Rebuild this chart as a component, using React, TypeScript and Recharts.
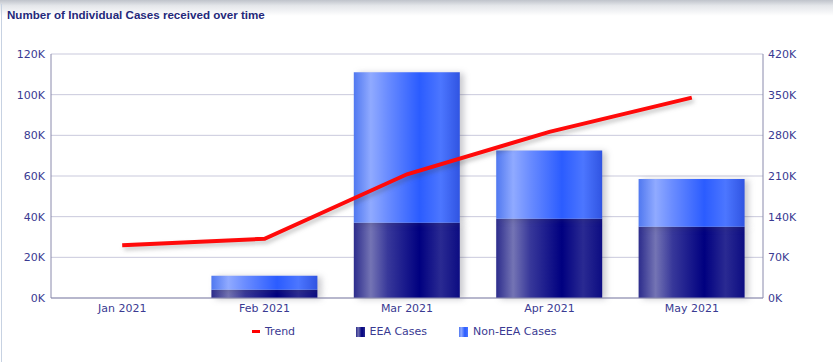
import React from 'react';
import {
  Bar,
  CartesianGrid,
  ComposedChart,
  Line,
  XAxis,
  YAxis,
} from 'recharts';

const months = ['Jan 2021', 'Feb 2021', 'Mar 2021', 'Apr 2021', 'May 2021'];
const eeaCases = [0, 4000, 37000, 39000, 35000];
const nonEeaCases = [0, 7000, 74000, 33500, 23500];
const trend = [91000, 102000, 213000, 286000, 345000];
const leftTicks = [0, 20000, 40000, 60000, 80000, 100000, 120000];
const rightTicks = [0, 70000, 140000, 210000, 280000, 350000, 420000];

const data = months.map((m, i) => ({
  month: m,
  eea: eeaCases[i],
  nonEea: nonEeaCases[i],
  trend: trend[i],
}));

const TICK = '#3a3a92';
const AXIS = '#8a8aac';
const GRID = '#c9c9dc';
const FONT = '"DejaVu Sans", Verdana, sans-serif';

const kFormat = (v: number) => `${Math.round(v / 1000)}K`;

function Legend() {
  const item = { display: 'flex', alignItems: 'center', gap: 5, width: 103.5 } as const;
  return (
    <div
      style={{
        position: 'absolute',
        top: 325,
        left: 252,
        display: 'flex',
        fontFamily: FONT,
        fontSize: 11,
        color: TICK,
        whiteSpace: 'nowrap',
      }}
    >
      <span style={item}>
        <span style={{ width: 8, height: 3, background: '#ff0000', display: 'inline-block' }} />
        Trend
      </span>
      <span style={item}>
        <span
          style={{
            width: 9,
            height: 10,
            display: 'inline-block',
            background: 'linear-gradient(90deg,#2a2a8a,#7070b0 25%,#000080 65%,#2a2a90)',
          }}
        />
        EEA Cases
      </span>
      <span style={item}>
        <span
          style={{
            width: 9,
            height: 10,
            display: 'inline-block',
            background: 'linear-gradient(90deg,#5078f0,#8ea8ff 25%,#2a5cff 65%,#4a74ff)',
          }}
        />
        Non-EEA Cases
      </span>
    </div>
  );
}

export default function App() {
  return (
    <div style={{ position: 'relative', width: 833, height: 362, background: '#fff', overflow: 'hidden' }}>
      <style>{`
        body { margin: 0; }
        .bars-shadow .recharts-bar-rectangles { filter: drop-shadow(4px 1px 3px rgba(60,60,80,0.28)); }
        .line-shadow { filter: drop-shadow(2px 3px 2px rgba(60,60,60,0.3)); }
      `}</style>
      <div
        style={{
          position: 'absolute',
          top: 0,
          left: 0,
          width: 833,
          height: 16,
          background: 'linear-gradient(180deg,#bfc3cb 0%,#e4e6ea 35%,#ffffff 100%)',
        }}
      />
      <div style={{ position: 'absolute', top: 4, left: 1, width: 1, height: 358, background: '#c7d2e2' }} />
      <div
        style={{
          position: 'absolute',
          top: 8,
          left: 7,
          fontFamily: '"Liberation Sans", Arial, sans-serif',
          fontWeight: 'bold',
          fontSize: 11.6,
          color: '#24287a',
        }}
      >
        Number of Individual Cases received over time
      </div>
      <div style={{ position: 'absolute', top: 0, left: 0 }}>
        <ComposedChart
          width={833}
          height={362}
          data={data}
          margin={{ top: 54, right: 0, left: 6, bottom: 40 }}
          barCategoryGap="25%"
        >
          <CartesianGrid stroke={GRID} vertical={false} yAxisId="left" />
          <XAxis
            dataKey="month"
            tick={{ fill: TICK, fontSize: 11, fontFamily: FONT }}
            tickLine={false}
            axisLine={{ stroke: AXIS }}
            tickSize={4}
            tickMargin={2}
            height={24}
          />
          <YAxis
            yAxisId="left"
            domain={[0, 120000]}
            ticks={leftTicks}
            tickFormatter={kFormat}
            tick={{ fill: TICK, fontSize: 11, fontFamily: FONT }}
            tickLine={false}
            axisLine={{ stroke: AXIS }}
            tickSize={4}
            tickMargin={2}
            width={45}
          />
          <YAxis
            yAxisId="right"
            orientation="right"
            domain={[0, 420000]}
            ticks={rightTicks}
            tickFormatter={kFormat}
            tick={{ fill: TICK, fontSize: 11, fontFamily: FONT, textAnchor: 'start' }}
            tickLine={false}
            axisLine={{ stroke: AXIS }}
            tickSize={3}
            tickMargin={2}
            width={70}
          />
          <defs>
            <linearGradient id="g-eea" x1="0" y1="0" x2="1" y2="0">
              <stop offset="0%" stopColor="#2c2c8c" />
              <stop offset="16%" stopColor="#7474b4" />
              <stop offset="32%" stopColor="#38389a" />
              <stop offset="62%" stopColor="#000080" />
              <stop offset="82%" stopColor="#2a2a92" />
              <stop offset="100%" stopColor="#0c0c82" />
            </linearGradient>
            <linearGradient id="g-non" x1="0" y1="0" x2="1" y2="0">
              <stop offset="0%" stopColor="#5078f0" />
              <stop offset="16%" stopColor="#90aaff" />
              <stop offset="32%" stopColor="#6a8cff" />
              <stop offset="62%" stopColor="#2b5cff" />
              <stop offset="82%" stopColor="#4c76ff" />
              <stop offset="100%" stopColor="#3054e2" />
            </linearGradient>
          </defs>
          <Bar
            yAxisId="left"
            dataKey="eea"
            name="EEA Cases"
            stackId="cases"
            fill="url(#g-eea)"
            barSize={106}
            className="bars-shadow"
            isAnimationActive={false}
          />
          <Bar
            yAxisId="left"
            dataKey="nonEea"
            name="Non-EEA Cases"
            stackId="cases"
            fill="url(#g-non)"
            barSize={106}
            className="bars-shadow"
            isAnimationActive={false}
          />
          <Line
            yAxisId="right"
            type="linear"
            dataKey="trend"
            name="Trend"
            stroke="#ff0a0a"
            strokeWidth={4}
            dot={false}
            activeDot={false}
            className="line-shadow"
            isAnimationActive={false}
          />
        </ComposedChart>
      </div>
      <Legend />
    </div>
  );
}
